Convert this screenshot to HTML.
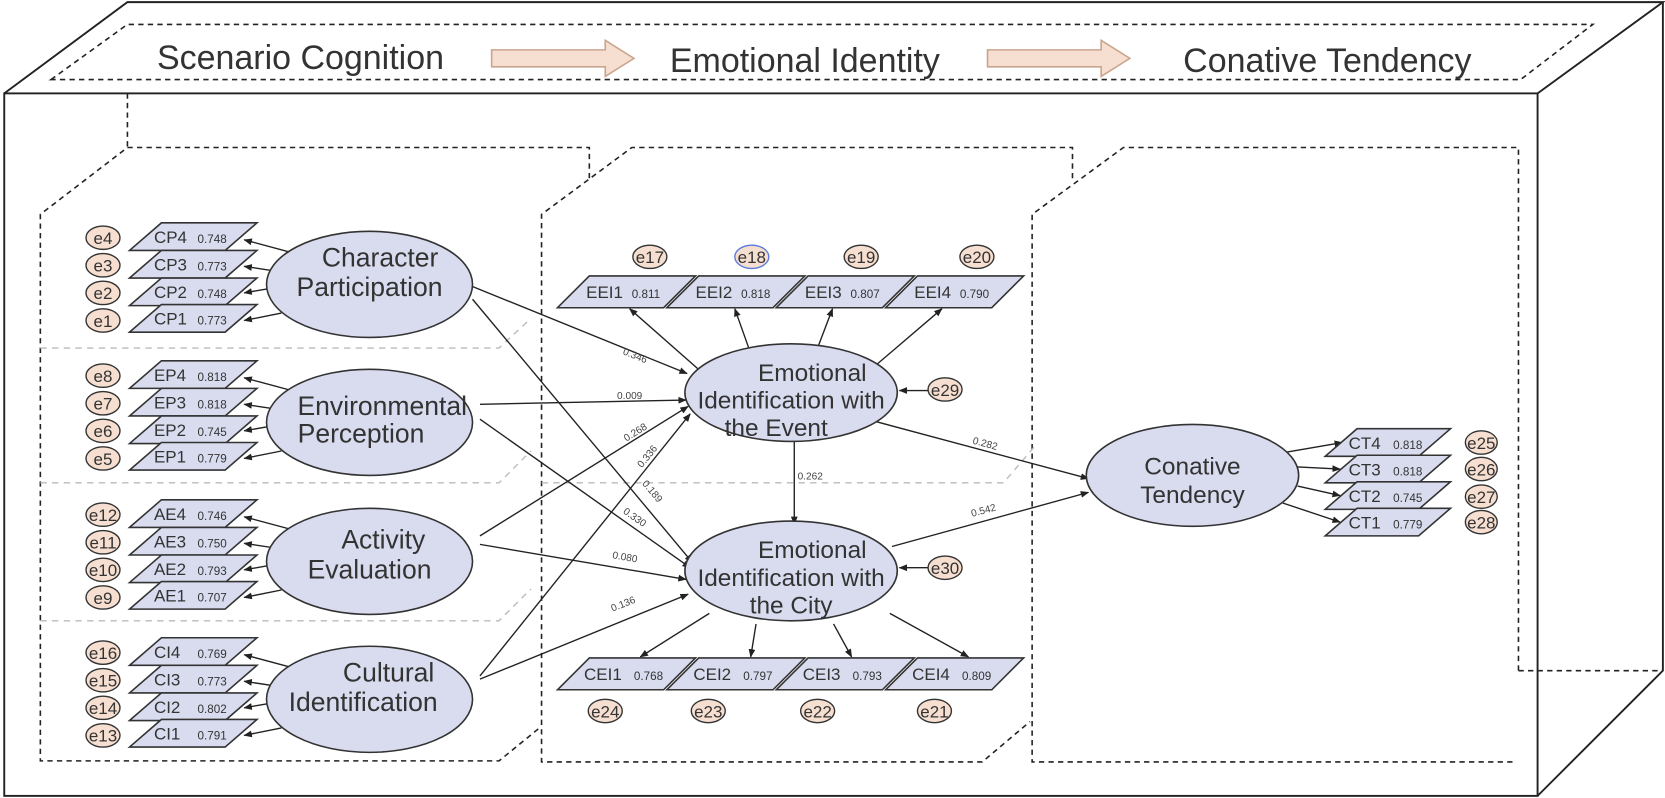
<!DOCTYPE html>
<html><head><meta charset="utf-8"><style>
html,body{margin:0;padding:0;background:#fff}
svg{display:block}
text{font-family:"Liberation Sans",sans-serif;fill:#333}
.b{fill:#d9dcef;stroke:#333;stroke-width:1.5}
.e{fill:#f6dfd0;stroke:#333;stroke-width:1.3}
.l{stroke:#222;stroke-width:1.3;fill:none;marker-end:url(#a)}
.d{stroke:#222;stroke-width:1.5;fill:none;stroke-dasharray:5 4}
.g{stroke:#bbb;stroke-width:1.3;fill:none;stroke-dasharray:6 5}
.n{font-size:16px}.v{font-size:11px}.et{font-size:16px;text-anchor:middle}
.big{font-size:23px;text-anchor:middle}
.lt{font-size:25px;text-anchor:middle}
.w{font-size:9.5px;text-anchor:middle;fill:#444}
</style></head><body>
<svg width="1665" height="798" viewBox="0 0 1568 752" preserveAspectRatio="none" xmlns="http://www.w3.org/2000/svg">
<defs><marker id="a" viewBox="0 0 10 10" refX="9" refY="5" markerWidth="8" markerHeight="8" markerUnits="userSpaceOnUse" orient="auto"><path d="M0,1 L10,5 L0,9 z" fill="#222"/></marker></defs>

<g stroke="#222" stroke-width="1.8" fill="none">
<rect x="4" y="88" width="1444" height="662"/>
<polyline points="4,88 120,2 1566,2 1448,88"/>
<polyline points="1566,2 1566,632 1448,750"/>
</g>
<polygon class="d" points="48,75 120,23 1500,23 1432,75"/>
<line class="d" x1="120" y1="88" x2="120" y2="139"/>
<line class="d" x1="1430" y1="632" x2="1566" y2="632"/>

<polyline class="d" points="555,168 555,139 120,139 38,202 38,717 470,717 508,686"/>
<polyline class="d" points="1010,168 1010,139 595,139 510,202 510,718 925,718 970,680"/>
<polyline class="d" points="1430,632 1430,139 1058,139 972,202 972,718 1425,718"/>
<polyline class="g" points="38,328 470,328 500,300"/>
<polyline class="g" points="38,455 470,455 500,425"/>
<polyline class="g" points="38,585 470,585 500,555"/>
<polyline class="g" points="510,455 945,455 975,420"/>

<text x="283" y="65" style="font-size:32px" text-anchor="middle">Scenario Cognition</text>
<text x="758" y="68" style="font-size:32px" text-anchor="middle">Emotional Identity</text>
<text x="1250" y="68" style="font-size:32px" text-anchor="middle">Conative Tendency</text>
<polygon points="463,47 570,47 570,38 597,55 570,72 570,63 463,63" fill="#f6dfd0" stroke="#c9a48f" stroke-width="1.5"/>
<polygon points="930,47 1037,47 1037,38 1064,55 1037,72 1037,63 930,63" fill="#f6dfd0" stroke="#c9a48f" stroke-width="1.5"/>

<line class="l" x1="440" y1="268" x2="647" y2="352"/>
<line class="l" x1="445" y1="282" x2="652" y2="530"/>
<line class="l" x1="452" y1="381" x2="646" y2="377"/>
<line class="l" x1="452" y1="395" x2="650" y2="535"/>
<line class="l" x1="452" y1="505" x2="648" y2="383"/>
<line class="l" x1="452" y1="513" x2="646" y2="546"/>
<line class="l" x1="452" y1="637" x2="650" y2="390"/>
<line class="l" x1="452" y1="640" x2="648" y2="560"/>
<line class="l" x1="820" y1="396" x2="1025" y2="451"/>
<line class="l" x1="840" y1="515" x2="1025" y2="464"/>
<line class="l" x1="748" y1="415" x2="748" y2="494"/>
<text class="w" transform="translate(597,338) rotate(22)">0.346</text>
<text class="w" x="593" y="376">0.009</text>
<text class="w" transform="translate(600,410) rotate(-32)">0.268</text>
<text class="w" transform="translate(612,432) rotate(-51)">0.336</text>
<text class="w" transform="translate(612,465) rotate(50)">0.189</text>
<text class="w" transform="translate(596,490) rotate(35)">0.330</text>
<text class="w" transform="translate(588,528) rotate(10)">0.080</text>
<text class="w" transform="translate(588,572) rotate(-22)">0.136</text>
<text class="w" transform="translate(927,421) rotate(15)">0.282</text>
<text class="w" transform="translate(927,484) rotate(-15)">0.542</text>
<text class="w" x="763" y="452">0.262</text>

<line class="l" x1="660" y1="350" x2="593" y2="291"/>
<line class="l" x1="708" y1="336" x2="692" y2="291"/>
<line class="l" x1="768" y1="333" x2="784" y2="291"/>
<line class="l" x1="818" y1="350" x2="887" y2="291"/>
<polygon class="b" points="525,290 555,260 655,260 625,290"/>
<polygon class="b" points="628,290 658,260 758,260 728,290"/>
<polygon class="b" points="731,290 761,260 861,260 831,290"/>
<polygon class="b" points="834,290 864,260 964,260 934,290"/>
<text class="n" x="552" y="281">EEI1</text><text class="v" x="595" y="281">0.811</text>
<text class="n" x="655" y="281">EEI2</text><text class="v" x="698" y="281">0.818</text>
<text class="n" x="758" y="281">EEI3</text><text class="v" x="801" y="281">0.807</text>
<text class="n" x="861" y="281">EEI4</text><text class="v" x="904" y="281">0.790</text>
<ellipse class="e" cx="612" cy="242" rx="16" ry="11"/><text class="et" x="612" y="248">e17</text>
<ellipse class="e" cx="708" cy="242" rx="16" ry="11" style="stroke:#5b7be0"/><text class="et" x="708" y="248">e18</text>
<ellipse class="e" cx="811" cy="242" rx="16" ry="11"/><text class="et" x="811" y="248">e19</text>
<ellipse class="e" cx="920" cy="242" rx="16" ry="11"/><text class="et" x="920" y="248">e20</text>

<line class="l" x1="668" y1="578" x2="603" y2="619"/>
<line class="l" x1="712" y1="588" x2="707" y2="619"/>
<line class="l" x1="785" y1="588" x2="802" y2="619"/>
<line class="l" x1="838" y1="578" x2="912" y2="619"/>
<polygon class="b" points="525,650 555,620 655,620 625,650"/>
<polygon class="b" points="628,650 658,620 758,620 728,650"/>
<polygon class="b" points="731,650 761,620 861,620 831,650"/>
<polygon class="b" points="834,650 864,620 964,620 934,650"/>
<text class="n" x="550" y="641">CEI1</text><text class="v" x="597" y="641">0.768</text>
<text class="n" x="653" y="641">CEI2</text><text class="v" x="700" y="641">0.797</text>
<text class="n" x="756" y="641">CEI3</text><text class="v" x="803" y="641">0.793</text>
<text class="n" x="859" y="641">CEI4</text><text class="v" x="906" y="641">0.809</text>
<ellipse class="e" cx="570" cy="670" rx="16" ry="11"/><text class="et" x="570" y="676">e24</text>
<ellipse class="e" cx="667" cy="670" rx="16" ry="11"/><text class="et" x="667" y="676">e23</text>
<ellipse class="e" cx="770" cy="670" rx="16" ry="11"/><text class="et" x="770" y="676">e22</text>
<ellipse class="e" cx="880" cy="670" rx="16" ry="11"/><text class="et" x="880" y="676">e21</text>

<ellipse class="b" cx="745" cy="370" rx="100" ry="46"/>
<text class="big" x="765" y="359">Emotional</text>
<text class="big" x="745" y="385">Identification with</text>
<text class="big" x="731" y="411">the Event</text>
<ellipse class="b" cx="745" cy="538" rx="100" ry="47"/>
<text class="big" x="765" y="526">Emotional</text>
<text class="big" x="745" y="552">Identification with</text>
<text class="big" x="745" y="578">the City</text>
<line class="l" x1="875" y1="368" x2="847" y2="368"/>
<line class="l" x1="875" y1="535" x2="847" y2="535"/>
<ellipse class="e" cx="890" cy="367" rx="16" ry="11"/><text class="et" x="890" y="373">e29</text>
<ellipse class="e" cx="890" cy="535" rx="16" ry="11"/><text class="et" x="890" y="541">e30</text>

<line class="l" x1="1212" y1="426" x2="1264" y2="417"/>
<line class="l" x1="1222" y1="440" x2="1262" y2="442"/>
<line class="l" x1="1222" y1="458" x2="1262" y2="467"/>
<line class="l" x1="1208" y1="474" x2="1262" y2="492"/>
<polygon class="b" points="1248,430 1278,404 1366,404 1336,430"/>
<polygon class="b" points="1248,455 1278,429 1366,429 1336,455"/>
<polygon class="b" points="1248,480 1278,454 1366,454 1336,480"/>
<polygon class="b" points="1248,505 1278,479 1366,479 1336,505"/>
<text class="n" x="1270" y="423">CT4</text><text class="v" x="1312" y="423">0.818</text>
<text class="n" x="1270" y="448">CT3</text><text class="v" x="1312" y="448">0.818</text>
<text class="n" x="1270" y="473">CT2</text><text class="v" x="1312" y="473">0.745</text>
<text class="n" x="1270" y="498">CT1</text><text class="v" x="1312" y="498">0.779</text>
<ellipse class="e" cx="1395" cy="417" rx="15" ry="11"/><text class="et" x="1395" y="423">e25</text>
<ellipse class="e" cx="1395" cy="442" rx="15" ry="11"/><text class="et" x="1395" y="448">e26</text>
<ellipse class="e" cx="1395" cy="468" rx="15" ry="11"/><text class="et" x="1395" y="474">e27</text>
<ellipse class="e" cx="1395" cy="492" rx="15" ry="11"/><text class="et" x="1395" y="498">e28</text>
<ellipse class="b" cx="1123" cy="448" rx="100" ry="48"/>
<text class="big" x="1123" y="447">Conative</text>
<text class="big" x="1123" y="474">Tendency</text>

<g>
<line class="l" x1="282" y1="240" x2="230" y2="226"/>
<line class="l" x1="263" y1="256" x2="230" y2="251"/>
<line class="l" x1="253" y1="272" x2="230" y2="276"/>
<line class="l" x1="265" y1="295" x2="230" y2="302"/>
<polygon class="b" points="122,236 152,210 242,210 212,236"/>
<polygon class="b" points="122,262 152,236 242,236 212,262"/>
<polygon class="b" points="122,288 152,262 242,262 212,288"/>
<polygon class="b" points="122,313 152,287 242,287 212,313"/>
<text class="n" x="145" y="229">CP4</text><text class="v" x="186" y="229">0.748</text>
<text class="n" x="145" y="255">CP3</text><text class="v" x="186" y="255">0.773</text>
<text class="n" x="145" y="281">CP2</text><text class="v" x="186" y="281">0.748</text>
<text class="n" x="145" y="306">CP1</text><text class="v" x="186" y="306">0.773</text>
<ellipse class="e" cx="97" cy="224" rx="16" ry="11"/><text class="et" x="97" y="230">e4</text>
<ellipse class="e" cx="97" cy="250" rx="16" ry="11"/><text class="et" x="97" y="256">e3</text>
<ellipse class="e" cx="97" cy="276" rx="16" ry="11"/><text class="et" x="97" y="282">e2</text>
<ellipse class="e" cx="97" cy="302" rx="16" ry="11"/><text class="et" x="97" y="308">e1</text>
<ellipse class="b" cx="348" cy="268" rx="97" ry="50"/>
<text class="lt" x="358" y="251">Character</text>
<text class="lt" x="348" y="279">Participation</text>
</g>
<g transform="translate(0,130)">
<line class="l" x1="282" y1="240" x2="230" y2="226"/>
<line class="l" x1="263" y1="256" x2="230" y2="251"/>
<line class="l" x1="253" y1="272" x2="230" y2="276"/>
<line class="l" x1="265" y1="295" x2="230" y2="302"/>
<polygon class="b" points="122,236 152,210 242,210 212,236"/>
<polygon class="b" points="122,262 152,236 242,236 212,262"/>
<polygon class="b" points="122,288 152,262 242,262 212,288"/>
<polygon class="b" points="122,313 152,287 242,287 212,313"/>
<text class="n" x="145" y="229">EP4</text><text class="v" x="186" y="229">0.818</text>
<text class="n" x="145" y="255">EP3</text><text class="v" x="186" y="255">0.818</text>
<text class="n" x="145" y="281">EP2</text><text class="v" x="186" y="281">0.745</text>
<text class="n" x="145" y="306">EP1</text><text class="v" x="186" y="306">0.779</text>
<ellipse class="e" cx="97" cy="224" rx="16" ry="11"/><text class="et" x="97" y="230">e8</text>
<ellipse class="e" cx="97" cy="250" rx="16" ry="11"/><text class="et" x="97" y="256">e7</text>
<ellipse class="e" cx="97" cy="276" rx="16" ry="11"/><text class="et" x="97" y="282">e6</text>
<ellipse class="e" cx="97" cy="302" rx="16" ry="11"/><text class="et" x="97" y="308">e5</text>
<ellipse class="b" cx="348" cy="268" rx="97" ry="50"/>
<text class="lt" x="360" y="261">Environmental</text>
<text class="lt" x="340" y="287">Perception</text>
</g>
<g transform="translate(0,261)">
<line class="l" x1="282" y1="240" x2="230" y2="226"/>
<line class="l" x1="263" y1="256" x2="230" y2="251"/>
<line class="l" x1="253" y1="272" x2="230" y2="276"/>
<line class="l" x1="265" y1="295" x2="230" y2="302"/>
<polygon class="b" points="122,236 152,210 242,210 212,236"/>
<polygon class="b" points="122,262 152,236 242,236 212,262"/>
<polygon class="b" points="122,288 152,262 242,262 212,288"/>
<polygon class="b" points="122,313 152,287 242,287 212,313"/>
<text class="n" x="145" y="229">AE4</text><text class="v" x="186" y="229">0.746</text>
<text class="n" x="145" y="255">AE3</text><text class="v" x="186" y="255">0.750</text>
<text class="n" x="145" y="281">AE2</text><text class="v" x="186" y="281">0.793</text>
<text class="n" x="145" y="306">AE1</text><text class="v" x="186" y="306">0.707</text>
<ellipse class="e" cx="97" cy="224" rx="16" ry="11"/><text class="et" x="97" y="230">e12</text>
<ellipse class="e" cx="97" cy="250" rx="16" ry="11"/><text class="et" x="97" y="256">e11</text>
<ellipse class="e" cx="97" cy="276" rx="16" ry="11"/><text class="et" x="97" y="282">e10</text>
<ellipse class="e" cx="97" cy="302" rx="16" ry="11"/><text class="et" x="97" y="308">e9</text>
<ellipse class="b" cx="348" cy="268" rx="97" ry="50"/>
<text class="lt" x="361" y="256">Activity</text>
<text class="lt" x="348" y="284">Evaluation</text>
</g>
<g transform="translate(0,391)">
<line class="l" x1="282" y1="240" x2="230" y2="226"/>
<line class="l" x1="263" y1="256" x2="230" y2="251"/>
<line class="l" x1="253" y1="272" x2="230" y2="276"/>
<line class="l" x1="265" y1="295" x2="230" y2="302"/>
<polygon class="b" points="122,236 152,210 242,210 212,236"/>
<polygon class="b" points="122,262 152,236 242,236 212,262"/>
<polygon class="b" points="122,288 152,262 242,262 212,288"/>
<polygon class="b" points="122,313 152,287 242,287 212,313"/>
<text class="n" x="145" y="229">CI4</text><text class="v" x="186" y="229">0.769</text>
<text class="n" x="145" y="255">CI3</text><text class="v" x="186" y="255">0.773</text>
<text class="n" x="145" y="281">CI2</text><text class="v" x="186" y="281">0.802</text>
<text class="n" x="145" y="306">CI1</text><text class="v" x="186" y="306">0.791</text>
<ellipse class="e" cx="97" cy="224" rx="16" ry="11"/><text class="et" x="97" y="230">e16</text>
<ellipse class="e" cx="97" cy="250" rx="16" ry="11"/><text class="et" x="97" y="256">e15</text>
<ellipse class="e" cx="97" cy="276" rx="16" ry="11"/><text class="et" x="97" y="282">e14</text>
<ellipse class="e" cx="97" cy="302" rx="16" ry="11"/><text class="et" x="97" y="308">e13</text>
<ellipse class="b" cx="348" cy="268" rx="97" ry="50"/>
<text class="lt" x="366" y="251">Cultural</text>
<text class="lt" x="342" y="279">Identification</text>
</g>
</svg>
</body></html>
